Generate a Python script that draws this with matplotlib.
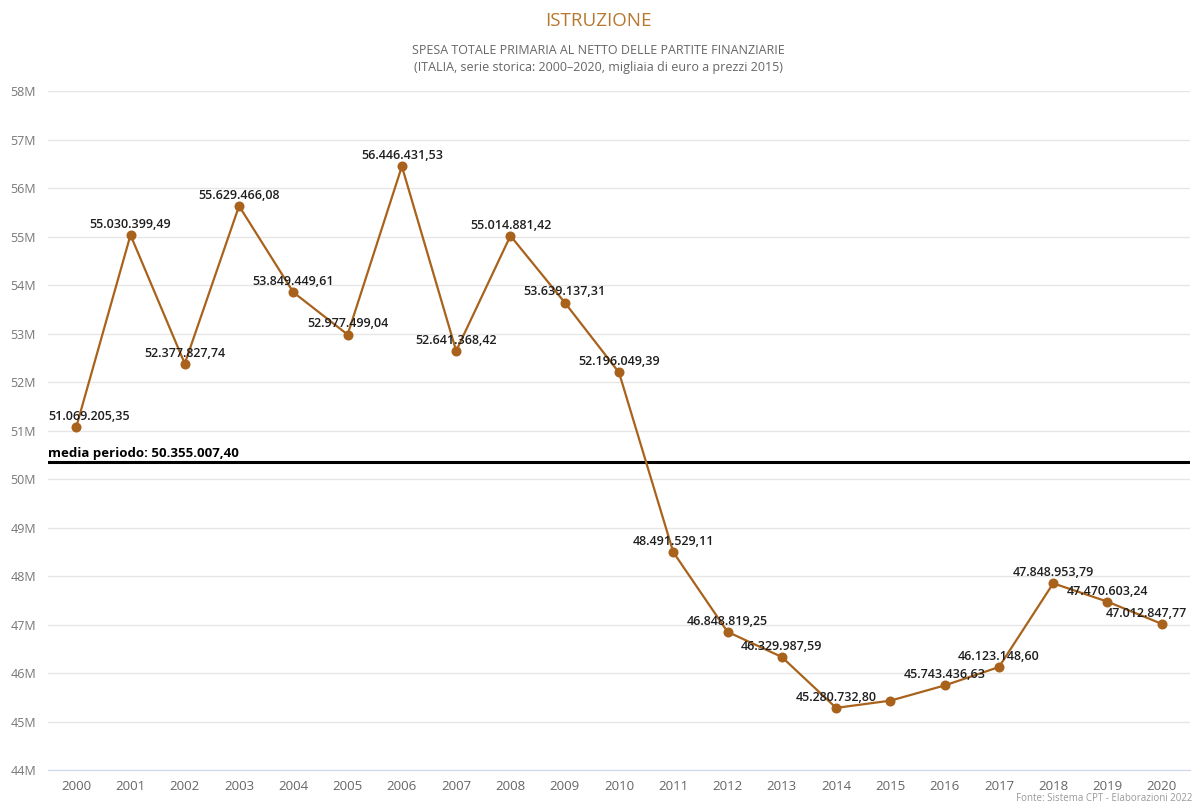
import matplotlib
matplotlib.use("Agg")
import matplotlib.pyplot as plt
from matplotlib.ticker import FuncFormatter, MultipleLocator

years = [str(y) for y in range(2000, 2021)]
spesa = [
    51069205.35, 55030399.49, 52377827.74, 55629466.08, 53849449.61,
    52977499.04, 56446431.53, 52641368.42, 55014881.42, 53639137.31,
    52196049.39, 48491529.11, 46848819.25, 46329987.59, 45280732.80,
    45430000.00, 45743436.63, 46123148.60, 47848953.79, 47470603.24,
    47012847.77,
]
# the 2015 point carries no value label
show_label = [True] * 21
show_label[15] = False
media = 50355007.40

LINE = "#a8621c"
TITLE = "#b8772f"
FONT = ["Open Sans", "DejaVu Sans"]
plt.rcParams["font.family"] = FONT


def it_num(v):
    s = f"{v:,.2f}"
    return s.replace(",", "X").replace(".", ",").replace("X", ".")


W, H = 1196, 805
fig = plt.figure(figsize=(W / 100, H / 100), dpi=100)
fig.patch.set_facecolor("white")
ax = fig.add_axes([48 / W, 1 - 770 / H, (1190 - 48) / W, (770 - 91) / H])

x = list(range(len(years)))
ax.plot(x, spesa, color=LINE, lw=1.6, marker="o", ms=6.2,
        markerfacecolor=LINE, markeredgecolor=LINE, zorder=3)

ax.set_xlim(-0.52, len(years) - 0.48)
ax.set_ylim(44e6, 58e6)
ax.yaxis.set_major_locator(MultipleLocator(1e6))
ax.yaxis.set_major_formatter(FuncFormatter(lambda v, p: f"{v / 1e6:.0f}M"))
ax.set_xticks(x)
ax.set_xticklabels(years)

ax.grid(axis="y", color="#e6e6e6", lw=1)
ax.set_axisbelow(True)
for side in ["top", "right", "left"]:
    ax.spines[side].set_visible(False)
ax.spines["bottom"].set_color("#ccd6eb")
ax.tick_params(axis="y", length=0, labelsize=9, labelcolor="#777777", pad=27)
ax.tick_params(axis="x", length=0, labelsize=9.5, labelcolor="#666666", pad=7)
for lab in ax.get_yticklabels():
    lab.set_horizontalalignment("left")

# period average
ax.axhline(media, color="black", lw=2.2, zorder=2)
ax.annotate(f"media periodo: {it_num(media)}", xy=(0, media),
            xycoords=("axes fraction", "data"), xytext=(0, 1),
            textcoords="offset points", ha="left", va="bottom",
            fontsize=9.5, fontweight="bold", color="black")

# value labels
n = len(years)
for i, (xi, v) in enumerate(zip(x, spesa)):
    if not show_label[i]:
        continue
    ha = "center"
    dx = 0
    if i == 0:
        ha, dx = "left", -20
    elif i == n - 1:
        ha, dx = "right", 18
    ax.annotate(it_num(v), xy=(xi, v), xytext=(dx, 3),
                textcoords="offset points", ha=ha, va="bottom",
                fontsize=9, fontweight="semibold", color="#1e1e1e",
                zorder=4)

fig.text(0.5, 1 - 21 / H, "ISTRUZIONE", ha="center", va="center",
         fontsize=13.5, color=TITLE)
fig.text(0.5, 1 - 51 / H, "SPESA TOTALE PRIMARIA AL NETTO DELLE PARTITE FINANZIARIE",
         ha="center", va="center", fontsize=9, color="#666666")
fig.text(0.5, 1 - 67 / H,
         "(ITALIA, serie storica: 2000–2020, migliaia di euro a prezzi 2015)",
         ha="center", va="center", fontsize=9, color="#666666")
fig.text(1192 / W, 1 - 798 / H, "Fonte: Sistema CPT - Elaborazioni 2022",
         ha="right", va="center", fontsize=7, color="#999999")

fig.savefig("out.png", dpi=100, facecolor="white")
